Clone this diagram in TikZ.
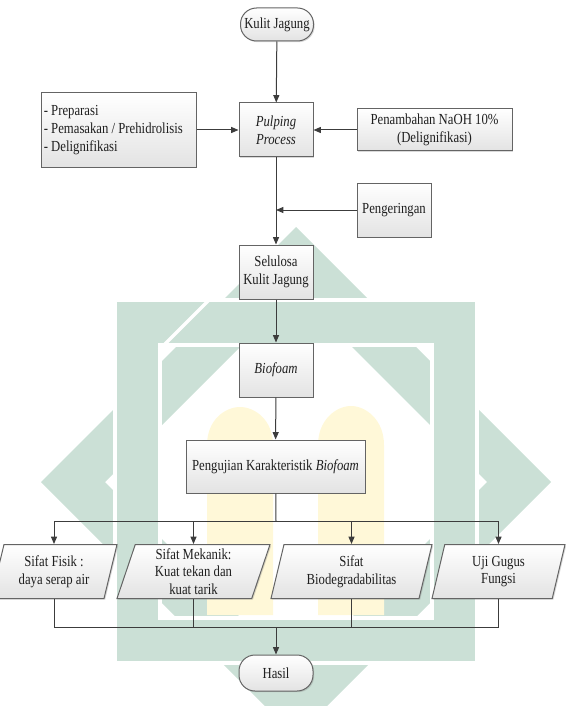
\documentclass[tikz,border=0pt]{standalone}
\usepackage{fontspec}
\setmainfont{Liberation Serif}[FakeStretch=0.83]
\usetikzlibrary{shapes.geometric,arrows.meta,shadows}

\definecolor{logogreen}{RGB}{203,224,214}
\definecolor{logoyellow}{RGB}{255,248,216}
\definecolor{boxline}{RGB}{100,100,100}
\definecolor{flowgray}{RGB}{60,60,60}

\tikzset{every picture/.style={line width=0.75pt}}
\tikzset{
  flowbox/.style={draw=boxline, top color=white, bottom color=black!11,
    inner sep=1.5pt, align=center, text=black!88,
    font=\fontsize{11.5}{13.2}\selectfont,
    drop shadow={shadow xshift=0.9pt, shadow yshift=-0.9pt, opacity=0.3}},
  termbox/.style={flowbox, rounded corners=12pt},
  databox/.style={flowbox, trapezium, trapezium left angle=70,
    trapezium right angle=110, trapezium stretches body,
    minimum height=40.5pt},
  flowarrow/.style={draw=flowgray, -{Triangle[length=5.5pt,width=4.5pt]}},
  flowline/.style={draw=flowgray},
}

\begin{document}
\begin{tikzpicture}[x=0.75pt,y=0.75pt,yscale=-1,xscale=1]
\useasboundingbox (0,0) rectangle (565,706);

% Watermark
\fill[logogreen, even odd rule] (296,227) -- (551,482) -- (296,737) -- (41,482) -- cycle
  (296,291) -- (487,482) -- (296,673) -- (105,482) -- cycle;
\fill[logogreen, even odd rule] (115,300) rectangle (477,663) (160,345) rectangle (432,618);
\draw[white, line width=2.5pt] (115,300) rectangle (477,663) (160,345) rectangle (432,618);
\draw[white, line width=2.5pt] (159,350) -- (210,299);
\fill[logoyellow] (207,615) -- (207,445) .. controls (207,420) and (225,407) .. (240,407)
  .. controls (255,407) and (273,420) .. (273,445) -- (273,615) -- cycle;
\fill[logoyellow] (318,615) -- (318,445) .. controls (318,420) and (336,406) .. (351,406)
  .. controls (366,406) and (384,420) .. (384,445) -- (384,615) -- cycle;

% Nodes
\node[termbox, minimum width=54.75pt, minimum height=24.75pt] (kulit) at (277,24.5) {Kulit Jagung};
\node[flowbox, minimum width=55.5pt, minimum height=40.5pt] (pulping) at (276,130) {\textit{Pulping}\\\textit{Process}};
\node[flowbox, minimum width=116.25pt, minimum height=55.5pt, text width=112pt, align=left] (prep) at (118.5,130)
  {\spaceskip=0pt\xspaceskip=0pt - Preparasi\\- Pemasakan / Prehidrolisis\\- Delignifikasi};
\node[flowbox, minimum width=116.25pt, minimum height=31.5pt] (naoh) at (434.5,130) {Penambahan NaOH 10\%\\(Delignifikasi)};
\node[flowbox, minimum width=55.5pt, minimum height=40.5pt] (kering) at (394,210) {Pengeringan};
\node[flowbox, minimum width=55.5pt, minimum height=40.5pt] (selulosa) at (276,272) {Selulosa\\Kulit Jagung};
\node[flowbox, minimum width=55.5pt, minimum height=40.5pt] (biofoam) at (276,370) {\textit{Biofoam}};
\node[flowbox, minimum width=134.25pt, minimum height=39.75pt] (uji) at (275.5,466.5) {Pengujian Karakteristik \textit{Biofoam}};

\node[databox, minimum width=94.5pt] (fisik) at (54,571.5) {Sifat Fisik :\\daya serap air};
\node[databox, minimum width=114.75pt] (mekanik) at (193.5,571.5) {Sifat Mekanik:\\Kuat tekan dan\\kuat tarik};
\node[databox, minimum width=120.75pt] (degradasi) at (351.5,571.5) {Sifat\\Biodegradabilitas};
\node[databox, minimum width=99.75pt] (gugus) at (498.5,571.5) {Uji Gugus\\Fungsi};

\node[termbox, minimum width=55.5pt, minimum height=27pt] (hasil) at (276,673) {Hasil};

\coordinate (fork) at (276,521);
\coordinate (join) at (276,627);

% Connectors
\draw[flowarrow] (kulit) -- (pulping);
\draw[flowarrow] (prep) -- (pulping);
\draw[flowarrow] (naoh) -- (pulping);
\draw[flowarrow] (pulping) -- (selulosa);
\draw[flowarrow] (kering.west) -- (kering.west -| pulping.south);
\draw[flowarrow] (selulosa) -- (biofoam);
\draw[flowarrow] (biofoam) -- (uji);
\draw[flowline] (uji) -- (fork);
\foreach \n in {fisik,mekanik,degradasi,gugus}
  \draw[flowarrow] (fork) -| (\n.north);
\foreach \n in {fisik,mekanik,degradasi,gugus}
  \draw[flowline] (\n.south) |- (join);
\draw[flowarrow] (join) -- (hasil);
\end{tikzpicture}
\end{document}
